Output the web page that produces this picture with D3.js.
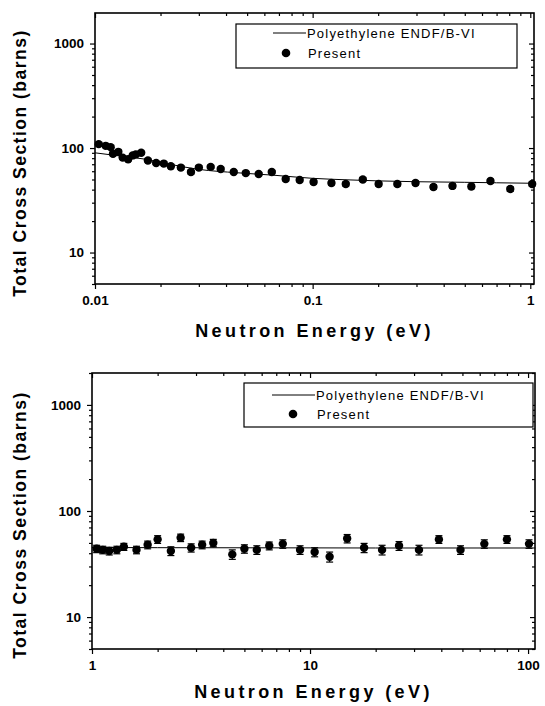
<!DOCTYPE html>
<html><head><meta charset="utf-8">
<script src="https://cdn.jsdelivr.net/npm/d3@7"></script>
<style>body{margin:0;background:#fff}</style></head>
<body><svg id="c" width="545" height="706"></svg>
<script>
// ---- data ----
const topEnergy=[0.0104,0.0112,0.0118,0.0121,0.0128,0.0134,0.0142,0.0149,0.0154,0.0163,0.0175,0.0191,0.0207,0.0223,0.0248,0.0276,0.0300,0.0340,0.0378,0.0434,0.0493,0.0565,0.0649,0.0752,0.0872,0.101,0.122,0.142,0.170,0.201,0.245,0.297,0.359,0.439,0.536,0.656,0.809,1.02];
const topSigma=[109,105,102,88,92,81,78,85,87,90,76,72,71,67,65,59,65,66,63,59,57.6,56.4,59,50.5,49.4,47.3,46.3,45.3,50,45.3,45.3,46.3,42.4,43.4,42.9,48.3,40.5,45.3];
const topErr=[4,4,4,3.5,3.5,3,3,3,3,3,2.5,2.5,2.5,2.5,2.5,2.5,2.5,2.5,2.5,2,2,2,2,2,2,2,2,2,2,2,2,2,2,2,2,2,2,2];
const topLineE=[0.01,0.013,0.0168,0.022,0.03,0.045,0.066,0.1,0.15,0.2,0.3,0.5,0.7,1.04];
const topLineS=[90,84,78.5,70,62.5,58,55,51.3,49.5,48.5,47.6,47,46.5,46];
const botEnergy=[1.05,1.12,1.2,1.3,1.4,1.6,1.8,2.0,2.3,2.55,2.85,3.2,3.6,4.4,5.0,5.7,6.5,7.5,9.0,10.5,12.3,14.8,17.7,21.4,25.6,31.6,39,49,63,80,101];
const botSigma=[44,43,42,43,46,43,48,54,42,56,45,48,50,39,44,43,47,49,43,41,37,55,45,43,47,43,54,43,49,54,49];
const botErr=[3.5,3.5,3.5,3.5,3.5,3.5,4,4.5,4,4.5,4,4,4,4,4,4,4,4.5,4,4,4,5,4.5,4.5,4.5,4.5,4.5,4,4.5,4.5,4.5];
const botLineE=[1,2,5,10,20,50,108];
const botLineS=[45.3,45.1,45,44.9,44.8,44.8,44.8];
const topXTicks=[0.01,0.1,1], topXLabels=["0.01","0.1","1"];
const botXTicks=[1,10,100], botXLabels=["1","10","100"];
const yTicks=[10,100,1000], yLabels=["10","100","1000"];
const legendLabels=["Polyethylene ENDF/B-VI","Present"];
const xTitle="Neutron Energy (eV)", yTitle="Total Cross Section (barns)";

const svg=d3.select('#c');
const FONT='Liberation Sans, Arial, sans-serif';

function panel(cfg){
  const g=svg.append('g');
  const x=d3.scaleLog().domain(cfg.xdom).range([cfg.x0,cfg.x1]);
  const y=d3.scaleLog().domain(cfg.ydom).range([cfg.y1,cfg.y0]);
  const minorX=x.ticks().filter(v=>!cfg.xt.some(t=>Math.abs(t-v)/t<1e-6));
  const minorY=y.ticks().filter(v=>!yTicks.some(t=>Math.abs(t-v)/t<1e-6));
  const fmtX=d=>cfg.xl[cfg.xt.indexOf(d)];
  const fmtY=d=>yLabels[yTicks.indexOf(d)];
  function ax(a,tr,vals,size,fmt){
    const s=g.append('g').attr('transform',tr).call(a.tickValues(vals).tickSize(size).tickFormat(fmt||'').tickPadding(6));
    s.select('.domain').remove();
    s.selectAll('line').attr('stroke','#000').attr('stroke-width',1.2);
    s.selectAll('text').attr('font-family',FONT).attr('font-weight','bold').attr('font-size',13.5).attr('fill','#000');
    return s;
  }
  ax(d3.axisBottom(x),`translate(0,${cfg.y1})`,cfg.xt,5,fmtX);
  ax(d3.axisBottom(x),`translate(0,${cfg.y1})`,minorX,3);
  ax(d3.axisTop(x),`translate(0,${cfg.y0})`,cfg.xt,-5);
  ax(d3.axisTop(x),`translate(0,${cfg.y0})`,minorX,-3);
  ax(d3.axisLeft(y),`translate(${cfg.x0},0)`,yTicks,5,fmtY);
  ax(d3.axisLeft(y),`translate(${cfg.x0},0)`,minorY,3);
  ax(d3.axisRight(y),`translate(${cfg.x1},0)`,yTicks,-5);
  ax(d3.axisRight(y),`translate(${cfg.x1},0)`,minorY,-3);
  g.append('rect').attr('x',cfg.x0).attr('y',cfg.y0).attr('width',cfg.x1-cfg.x0).attr('height',cfg.y1-cfg.y0)
    .attr('fill','none').attr('stroke','#000').attr('stroke-width',1.6);
  // line
  const line=d3.line().x(d=>x(d[0])).y(d=>y(d[1])).curve(d3.curveMonotoneX);
  g.append('path').datum(d3.zip(cfg.lineE,cfg.lineS)).attr('d',line).attr('fill','none').attr('stroke','#000').attr('stroke-width',1);
  // points
  const pts=d3.zip(cfg.E,cfg.S,cfg.Er);
  const pg=g.append('g');
  pts.forEach(p=>{
    const cx=x(p[0]);
    pg.append('line').attr('x1',cx).attr('x2',cx).attr('y1',y(p[1]-p[2])).attr('y2',y(p[1]+p[2])).attr('stroke','#000').attr('stroke-width',1.2);
    [p[1]-p[2],p[1]+p[2]].forEach(v=>pg.append('line').attr('x1',cx-3.5).attr('x2',cx+3.5).attr('y1',y(v)).attr('y2',y(v)).attr('stroke','#000').attr('stroke-width',1.2));
    pg.append('circle').attr('cx',cx).attr('cy',y(p[1])).attr('r',4.2).attr('fill','#000');
  });
  // legend
  const L=cfg.leg;
  g.append('rect').attr('x',L.x).attr('y',L.y).attr('width',L.w).attr('height',L.h).attr('fill','#fff').attr('stroke','#000').attr('stroke-width',1.2);
  g.append('line').attr('x1',L.lx1).attr('x2',L.lx2).attr('y1',L.ly).attr('y2',L.ly).attr('stroke','#000').attr('stroke-width',1);
  g.append('circle').attr('cx',L.mx).attr('cy',L.my).attr('r',4.3).attr('fill','#000');
  g.append('text').attr('x',L.tx).attr('y',L.ly+4.5).text(legendLabels[0]).attr('font-family',FONT).attr('font-size',13).attr('letter-spacing',1.2);
  g.append('text').attr('x',L.tx+1).attr('y',L.my+4.5).text(legendLabels[1]).attr('font-family',FONT).attr('font-size',13).attr('letter-spacing',1.2);
  // titles
  g.append('text').attr('x',(cfg.x0+cfg.x1)/2+0).attr('y',cfg.xty).attr('text-anchor','middle').text(xTitle)
    .attr('font-family',FONT).attr('font-weight','bold').attr('font-size',18).attr('letter-spacing',3.4);
  g.append('text').attr('transform',`translate(${cfg.ytx},${cfg.yty}) rotate(-90)`).attr('text-anchor','middle').text(yTitle)
    .attr('font-family',FONT).attr('font-weight','bold').attr('font-size',17.5).attr('letter-spacing',1.5);
}

panel({x0:95,x1:534,y0:13,y1:284,xdom:[0.01,1.04],ydom:[5,1960],xt:topXTicks,xl:topXLabels,
  E:topEnergy,S:topSigma,Er:topErr,lineE:topLineE,lineS:topLineS,
  leg:{x:236,y:24,w:281,h:44,lx1:273,lx2:306,ly:33,mx:286,my:53,tx:307},xty:337,ytx:26,yty:163});
panel({x0:92,x1:535,y0:373,y1:649,xdom:[1,107.6],ydom:[5,2000],xt:botXTicks,xl:botXLabels,
  E:botEnergy,S:botSigma,Er:botErr,lineE:botLineE,lineS:botLineS,
  leg:{x:244,y:383,w:289,h:44,lx1:272,lx2:315,ly:395,mx:293,my:414,tx:316},xty:698,ytx:26,yty:525});
</script></body></html>
